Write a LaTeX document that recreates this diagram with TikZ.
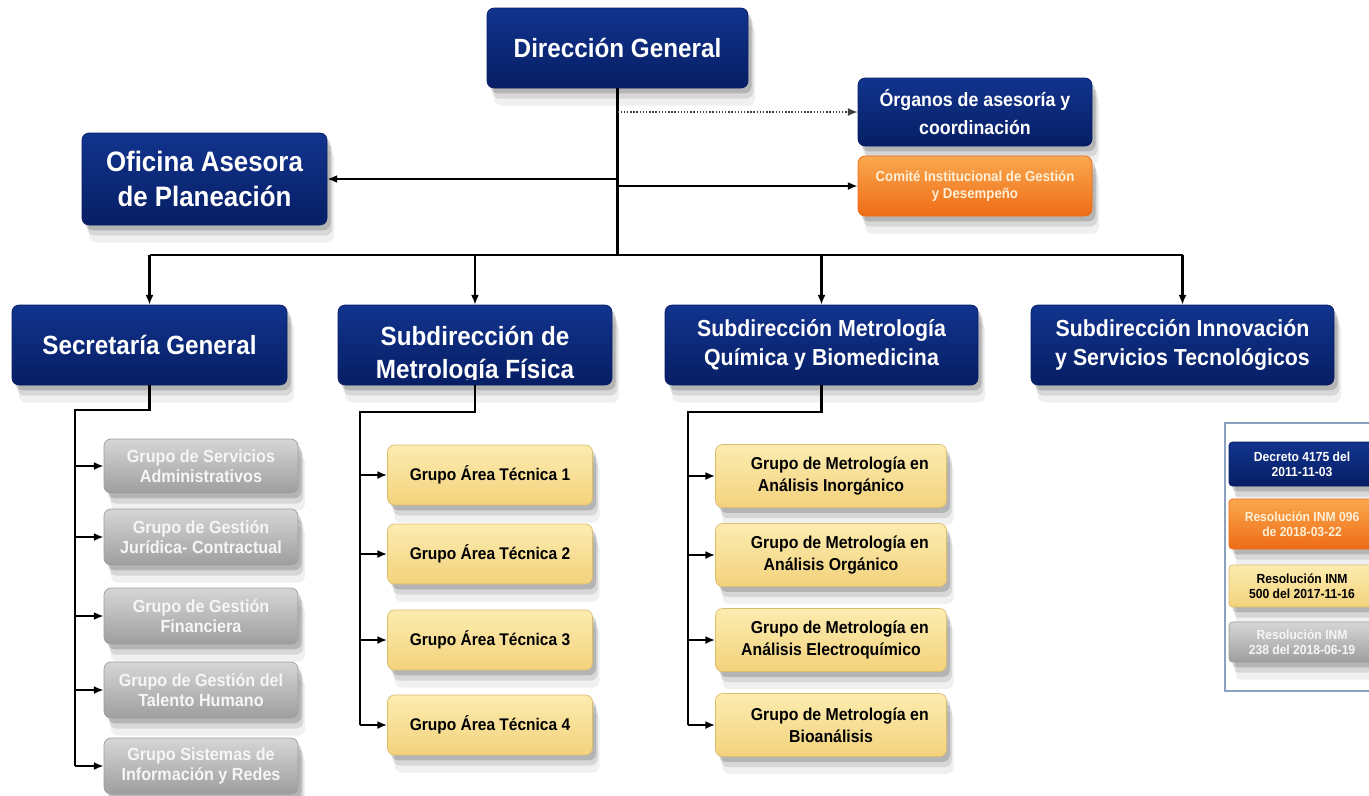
\documentclass[tikz,border=0pt]{standalone}
\usepackage{fontspec}
\setmainfont{Liberation Sans}[FakeStretch=0.92]
\usepackage{xcolor}
\usepackage{tikz}
\usetikzlibrary{arrows.meta,positioning,shadows}

\definecolor{navytop}{RGB}{18,52,142}
\definecolor{navybot}{RGB}{6,30,100}
\definecolor{orgtop}{RGB}{250,168,78}
\definecolor{orgbot}{RGB}{238,108,22}
\definecolor{yeltop}{RGB}{252,236,176}
\definecolor{yelbot}{RGB}{243,210,124}
\definecolor{graytop}{RGB}{214,214,214}
\definecolor{graybot}{RGB}{158,158,158}
\definecolor{legline}{RGB}{140,160,192}
\newcommand{\fsz}[2]{\fontsize{#1}{#2}\selectfont}

\begin{document}
\begin{tikzpicture}[x=0.02cm,y=-0.02cm,
    wh/.style 2 args={minimum width=#1*0.02cm, minimum height=#2*0.02cm},
    soft/.style={drop shadow={shadow xshift=2pt,shadow yshift=-3pt,opacity=.16,fill=black},
                 drop shadow={shadow xshift=3pt,shadow yshift=-6pt,opacity=.1,fill=black},
                 drop shadow={shadow xshift=4pt,shadow yshift=-10pt,opacity=.06,fill=black}},
    box/.style={rounded corners=4pt, inner sep=0pt, align=center, soft},
    bluebox/.style={box, top color=navytop, bottom color=navybot, draw=navybot, text=white},
    orgbox/.style={box, top color=orgtop, bottom color=orgbot, draw=orgbot, text={rgb,255:red,255;green,240;blue,215}},
    yelbox/.style={box, top color=yeltop, bottom color=yelbot, draw=yelbot!90!black, text=black},
    graybox/.style={box, top color=graytop, bottom color=graybot, draw=graybot, text={rgb,255:red,246;green,246;blue,246}},
    link/.style={line width=1.2pt, black},
    arr/.style={link, -{Latex[length=5.5pt,width=4.5pt]}},
    dotlink/.style={line width=0.8pt, black!75, densely dotted, -{Latex[length=5.5pt,width=4.5pt]}}]
    \clip (0,0) rectangle (1369,795);
    \fill[white] (0,0) rectangle (1369,795);
    % Top level
    \node[bluebox, wh={261}{80}, font=\bfseries\fsz{15}{18}] (dg) at (617.5,48) {Dirección General};
    \node[bluebox, wh={245}{92}, font=\bfseries\fsz{16}{19.8}] (ofi) at (204.5,179) {Oficina Asesora\\de Planeación};
    \node[bluebox, wh={234}{68}, font=\bfseries\fsz{11}{16}] (org) at (975,112) {Órganos de asesoría y\\coordinación};
    \node[orgbox, wh={234}{60}, font=\bfseries\fsz{8.2}{10}] (com) at (975,186) {Comité Institucional de Gestión\\y Desempeño};
    % Subdirecciones
    \node[bluebox, wh={275}{80}, font=\bfseries\fsz{15}{18}] (sg) at (149.5,345) {Secretaría General};
    \node[bluebox, wh={274}{80}] (smf) at (475,345) {};
    \begin{scope}
        \clip (smf.north west) rectangle (smf.east |- 0,379);
        \node[align=center, text=white, font=\bfseries\fsz{15}{18.7}] (smft) at (475,355) {Subdirección de\\Metrología Física};
    \end{scope}
    \node[bluebox, wh={313}{80}, font=\bfseries\fsz{13.2}{16.5}] (smq) at (821.5,345) {Subdirección Metrología\\Química y Biomedicina};
    \node[bluebox, wh={303}{80}, font=\bfseries\fsz{13.2}{16}] (sin) at (1182.5,345) {Subdirección Innovación\\y Servicios Tecnológicos};
    % Grupos Secretaria
    \node[graybox, wh={194}{54}, font=\bfseries\fsz{10}{11.5}] (g1) at (201,466) {Grupo de Servicios\\Administrativos};
    \node[graybox, wh={194}{56}, font=\bfseries\fsz{10}{11.5}] (g2) at (201,537) {Grupo de Gestión\\Jurídica- Contractual};
    \node[graybox, wh={194}{56}, font=\bfseries\fsz{10}{11.5}] (g3) at (201,616) {Grupo de Gestión\\Financiera};
    \node[graybox, wh={194}{56}, font=\bfseries\fsz{10}{11.5}] (g4) at (201,690) {Grupo de Gestión del\\Talento Humano};
    \node[graybox, wh={194}{56}, font=\bfseries\fsz{10}{11.5}] (g5) at (201,766) {Grupo Sistemas de\\Información y Redes};
    % Grupos Fisica
    \foreach \i/\y in {1/475,2/554,3/640,4/725}
        \node[yelbox, wh={205}{60}, font=\bfseries\fsz{9.6}{12}] (t\i) at (490,\y) {Grupo Área Técnica \i};
    % Grupos Quimica
    \node[yelbox, wh={231}{63}, font=\bfseries\fsz{9.8}{12.3}] (q1) at (831,476) {\hspace*{10pt}Grupo de Metrología en\\Análisis Inorgánico};
    \node[yelbox, wh={231}{63}, font=\bfseries\fsz{9.8}{12.3}] (q2) at (831,555) {\hspace*{10pt}Grupo de Metrología en\\Análisis Orgánico};
    \node[yelbox, wh={231}{63}, font=\bfseries\fsz{9.8}{12.3}] (q3) at (831,640) {\hspace*{10pt}Grupo de Metrología en\\Análisis Electroquímico};
    \node[yelbox, wh={231}{63}, font=\bfseries\fsz{9.8}{12.3}] (q4) at (831,725) {\hspace*{10pt}Grupo de Metrología en\\Bioanálisis};
    % Connectors from the top
    \coordinate (bus) at (617.5,255);
    \draw[link] (dg.south) -- (bus);
    \draw[dotlink] (dg.south |- org.west) -- (org.west);
    \draw[arr] (dg.south |- ofi.east) -- (ofi.east);
    \draw[arr] (dg.south |- com.west) -- (com.west);
    \draw[link] (sg.north |- bus) -- (sin.north |- bus);
    \foreach \n in {sg,smf,smq,sin}
        \draw[arr] (\n.north |- bus) -- (\n.north);
    % Branches down to the groups
    \coordinate (sgj) at (75,410);
    \draw[link] (sg.south) |- (sgj) -- (sgj |- g5.west);
    \foreach \n in {g1,g2,g3,g4,g5}
        \draw[arr] (sgj |- \n.west) -- (\n.west);
    \coordinate (mfj) at (360,412);
    \draw[link] (smf.south) |- (mfj) -- (mfj |- t4.west);
    \foreach \n in {t1,t2,t3,t4}
        \draw[arr] (mfj |- \n.west) -- (\n.west);
    \coordinate (mqj) at (688,412);
    \draw[link] (smq.south) |- (mqj) -- (mqj |- q4.west);
    \foreach \n in {q1,q2,q3,q4}
        \draw[arr] (mqj |- \n.west) -- (\n.west);
    % Legend
    \node[draw=legline, line width=0.6pt, wh={190}{268}] (leg) at (1320,557) {};
    \node[bluebox, rounded corners=2pt, wh={146}{44}, font=\bfseries\fsz{7.5}{8.6}] (l1) at (1302,464) {Decreto 4175 del\\2011-11-03};
    \node[orgbox, rounded corners=2pt, wh={146}{50}, font=\bfseries\fsz{7.5}{8.6}] (l2) at (1302,524) {Resolución INM 096\\de 2018-03-22};
    \node[yelbox, rounded corners=2pt, wh={146}{42}, font=\bfseries\fsz{7.5}{8.6}] (l3) at (1302,586) {Resolución INM\\500 del 2017-11-16};
    \node[graybox, rounded corners=2pt, wh={146}{40}, font=\bfseries\fsz{7.5}{8.6}] (l4) at (1302,642) {Resolución INM\\238 del 2018-06-19};
\end{tikzpicture}
\end{document}
